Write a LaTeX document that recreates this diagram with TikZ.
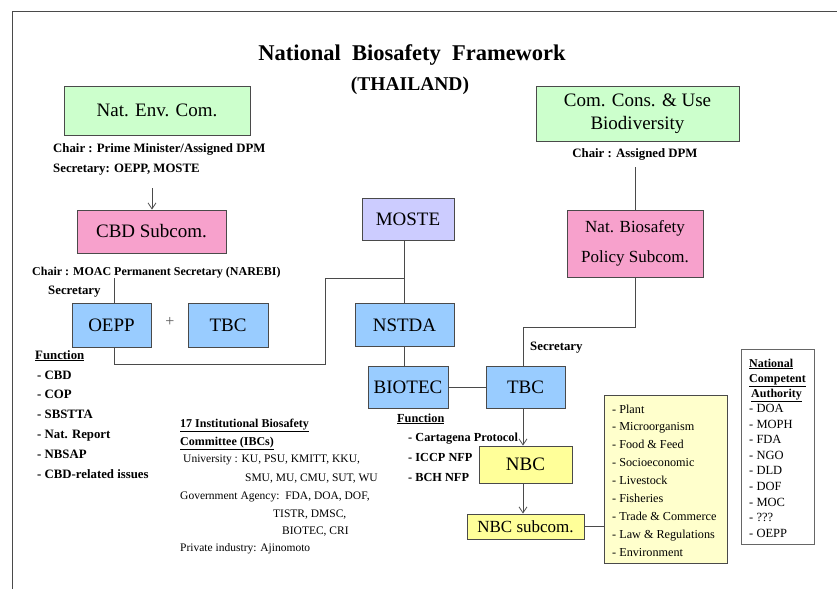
\documentclass[tikz,border=0pt]{standalone}
\usepackage{fontspec}
\setmainfont{Liberation Serif}
\usetikzlibrary{arrows.meta}
\definecolor{gbox}{HTML}{CCFFCC}
\definecolor{pbox}{HTML}{F7A1CC}
\definecolor{lbox}{HTML}{CCCCFF}
\definecolor{bbox}{HTML}{99CCFF}
\definecolor{ybox}{HTML}{FFFF99}
\definecolor{lybox}{HTML}{FFFFCC}
\definecolor{edge}{HTML}{4A4A4A}
\begin{document}
\begin{tikzpicture}[x=1pt,y=-1pt,
  box/.style={draw=edge, line width=0.8pt, inner sep=0pt, align=center, font=\fontsize{19}{23}\selectfont},
  conn/.style={draw=edge, line width=0.8pt},
  arr/.style={conn, -{Straight Barb[length=6pt,width=8pt]}},
  lbl/.style={inner sep=0pt, anchor=base west},
  bl/.style={lbl, font=\fontsize{12.8}{15}\selectfont\bfseries},
  rl/.style={lbl, font=\fontsize{11.5}{14}\selectfont},
  yl/.style={lbl, font=\fontsize{12.2}{14}\selectfont},
  sl/.style={lbl, font=\fontsize{12.5}{14}\selectfont},
]
\useasboundingbox (0,0) rectangle (837,589);
% frame
\draw[edge, line width=0.8pt] (12,589) -- (12,11) -- (837,11);
% title
\node[font=\fontsize{22.5}{26}\selectfont\bfseries] (title) at (412,55) {National\ \ Biosafety\ \ Framework};
\node[font=\fontsize{19.5}{22}\selectfont\bfseries] (country) at (410,86) {(THAILAND)};

% boxes
\node[box, fill=gbox, minimum width=186pt, minimum height=49pt] (nec) at (157,110.5) {Nat. Env. Com.};
\node[box, fill=gbox, minimum width=203pt, minimum height=55pt] (ccu) at (637.5,113.5) {Com. Cons. \& Use\\Biodiversity};
\node[box, fill=pbox, minimum width=149pt, minimum height=43pt] (cbd) at (151.5,231.5) {CBD Subcom.};
\node[box, fill=lbox, minimum width=92pt, minimum height=42pt] (moste) at (408,219) {MOSTE};
\node[box, fill=pbox, minimum width=136pt, minimum height=67pt, font=\fontsize{17}{30}\selectfont] (nbp) at (635,243.5) {Nat. Biosafety\\Policy Subcom.};
\node[box, fill=bbox, minimum width=79pt, minimum height=44pt] (oepp) at (111.5,325) {OEPP};
\node[box, fill=bbox, minimum width=80pt, minimum height=44pt] (tbca) at (228,325) {TBC};
\node[box, fill=bbox, minimum width=99pt, minimum height=43pt] (nstda) at (404.5,325) {NSTDA};
\node[box, fill=bbox, minimum width=80pt, minimum height=42pt] (biotec) at (408,387) {BIOTEC};
\node[box, fill=bbox, minimum width=79pt, minimum height=42pt] (tbcb) at (525.5,387) {TBC};
\node[box, fill=ybox, minimum width=93pt, minimum height=37pt] (nbc) at (525.5,464.5) {NBC};
\node[box, fill=ybox, minimum width=117pt, minimum height=25pt, font=\fontsize{17}{20}\selectfont] (nbcs) at (525.5,526.5) {NBC subcom.};
\node[draw=edge, line width=0.8pt, fill=lybox, minimum width=123pt, minimum height=168pt, inner sep=0pt] (list) at (665.5,479) {};
\node[draw=gray!80!black, line width=0.8pt, fill=white, minimum width=73pt, minimum height=195pt, inner sep=0pt] (nca) at (777.5,446.5) {};

% plus sign
\node[font=\fontsize{16}{18}\selectfont, text=gray!70!black] (plus) at (170,322) {+};

% texts under Nat. Env. Com.
\node[bl] (necchair) at (53,152) {Chair : Prime Minister/Assigned DPM};
\node[bl] (necsec) at (53,172) {Secretary: OEPP, MOSTE};
\coordinate (necarr) at (152,188);

% CBD texts
\node[bl, font=\fontsize{12}{14}\selectfont\bfseries] (cbdchair) at (32,275) {Chair : MOAC Permanent Secretary (NAREBI)};
\node[bl] (cbdsec) at (48,294) {Secretary};
\coordinate (cbdline) at (114,278);

% CCU chair
\node[font=\fontsize{12.8}{15}\selectfont\bfseries, inner sep=0pt] (ccuchair) at (635,154) {Chair : Assigned DPM};
\coordinate (cculine) at (635,167);

% right secretary
\node[bl] (tbcsec) at (530,350) {Secretary};

% Function left
\node[bl] (fnl) at (35,359) {\underline{Function}};
\foreach \t [count=\i from 0] in {- CBD, - COP, - SBSTTA, - Nat. Report, - NBSAP, - CBD-related issues}
  \node[bl] (fl\i) at (37,{379+19.8*\i}) {\t};

% IBC block
\node[bl, font=\fontsize{12}{14}\selectfont\bfseries] (ibc1) at (180,427) {\underline{17 Institutional Biosafety}};
\node[bl, font=\fontsize{12}{14}\selectfont\bfseries] (ibc2) at (180,445) {\underline{Committee (IBCs)}};
\node[rl] (ibc3) at (183,462) {University : KU, PSU, KMITT, KKU,};
\node[rl, anchor=base east] (ibc4) at (378,481) {SMU, MU, CMU, SUT, WU};
\node[rl] (ibc5) at (180,499) {Government Agency:\ \ FDA, DOA, DOF,};
\node[rl] (ibc6) at (273,517) {TISTR, DMSC,};
\node[rl] (ibc7) at (282,534) {BIOTEC, CRI};
\node[rl] (ibc8) at (180,551) {Private industry: Ajinomoto};

% BIOTEC function
\node[bl, font=\fontsize{12.3}{14}\selectfont\bfseries] (fnb) at (397,422) {\underline{Function}};
\node[bl, font=\fontsize{12.3}{14}\selectfont\bfseries] (fb1) at (408,441) {- Cartagena Protocol};
\node[bl, font=\fontsize{12.3}{14}\selectfont\bfseries] (fb2) at (408,461) {- ICCP NFP};
\node[bl, font=\fontsize{12.3}{14}\selectfont\bfseries] (fb3) at (408,481) {- BCH NFP};

% yellow list
\foreach \t [count=\i from 0] in {- Plant, - Microorganism, - Food \& Feed, - Socioeconomic, - Livestock, - Fisheries, - Trade \& Commerce, - Law \& Regulations, - Environment}
  \node[yl] (li\i) at (612,{413+17.9*\i}) {\t};

% NCA
\node[sl, font=\fontsize{12}{14}\selectfont\bfseries] (nca1) at (749,367) {\underline{National}};
\node[sl, font=\fontsize{12}{14}\selectfont\bfseries] (nca2) at (749,382) {\underline{Competent}};
\node[sl, font=\fontsize{12}{14}\selectfont\bfseries] (nca3) at (751,397) {\underline{Authority}};
\foreach \t [count=\i from 0] in {- DOA, - MOPH, - FDA, - NGO, - DLD, - DOF, - MOC, - ???, - OEPP}
  \node[sl] (nc\i) at (749,{412.5+15.6*\i}) {\t};

% connectors
\draw[arr] (necarr) -- (necarr |- cbd.north);
\draw[conn] (cbdline) -- (cbdline |- oepp.north);
\coordinate (oeppb) at (114,364);
\coordinate (oeppc) at (325,364);
\coordinate (oeppd) at (325,278);
\draw[conn] (cbdline |- oepp.south) -- (oeppb) -- (oeppc) -- (oeppd) -- (oeppd -| nstda.north);
\draw[conn] (nstda.north) -- (nstda.north |- moste.south);
\draw[conn] (nstda.south) -- (nstda.south |- biotec.north);
\draw[conn] (biotec.east) -- (tbcb.west);
\coordinate (tsa) at (523,327);
\coordinate (tsb) at (635,327);
\draw[conn] (tsa |- tbcb.north) -- (tsa) -- (tsb) -- (nbp.south);
\draw[conn] (cculine) -- (nbp.north);
\draw[arr] (tsa |- tbcb.south) -- (tsa |- nbc.north);
\draw[arr] (tsa |- nbc.south) -- (tsa |- nbcs.north);
\draw[conn] (nbcs.east) -- (nbcs.east -| list.west);
\end{tikzpicture}
\end{document}
